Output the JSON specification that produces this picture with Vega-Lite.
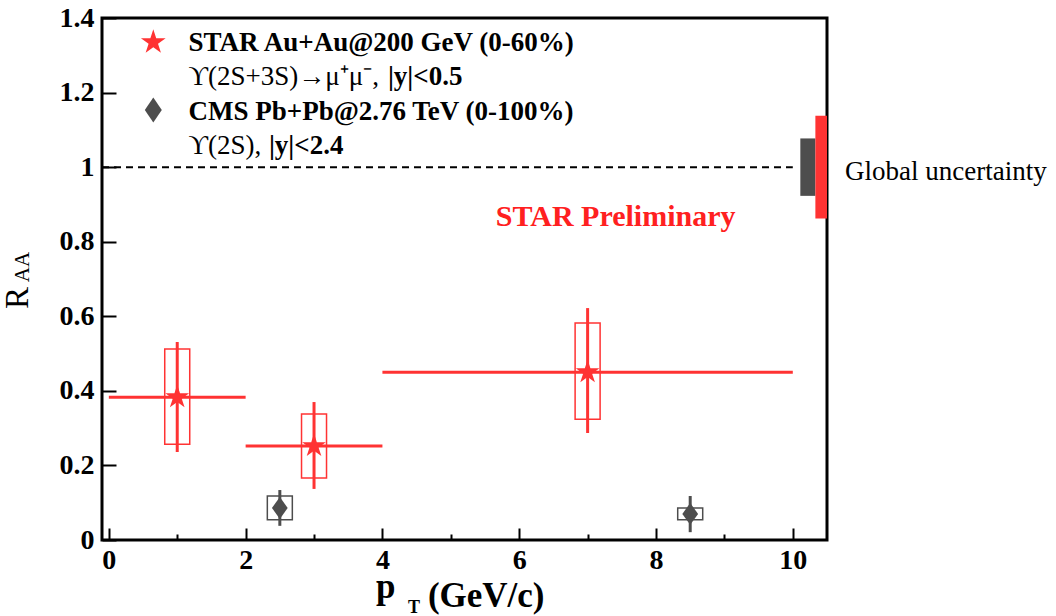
{
  "$schema": "https://vega.github.io/schema/vega-lite/v6.json",
  "width": 725,
  "height": 522,
  "autosize": {"type": "none"},
  "padding": {"left": 102, "top": 18, "right": 229, "bottom": 76},
  "background": "white",
  "config": {"view": {"stroke": "black", "strokeWidth": 3}, "font": "Liberation Serif"},
  "data": {"values": [{}]},
  "datasets": {
    "star": [
      {"pt": 1, "lo": 0, "hi": 2, "raa": 0.383, "statLo": 0.236, "statHi": 0.531, "sysLo": 0.257, "sysHi": 0.512},
      {"pt": 3, "lo": 2, "hi": 4, "raa": 0.252, "statLo": 0.137, "statHi": 0.37, "sysLo": 0.166, "sysHi": 0.338},
      {"pt": 7, "lo": 4, "hi": 10, "raa": 0.45, "statLo": 0.287, "statHi": 0.622, "sysLo": 0.324, "sysHi": 0.582}
    ],
    "cms": [
      {"pt": 2.5, "raa": 0.086, "statLo": 0.038, "statHi": 0.134, "sysLo": 0.054, "sysHi": 0.118},
      {"pt": 8.5, "raa": 0.07, "statLo": 0.021, "statHi": 0.118, "sysLo": 0.054, "sysHi": 0.086}
    ],
    "global": [
      {"exp": "CMS", "lo": 10.11, "hi": 10.33, "ylo": 0.923, "yhi": 1.077},
      {"exp": "STAR", "lo": 10.33, "hi": 10.5, "ylo": 0.862, "yhi": 1.138}
    ]
  },
  "layer": [
    {
      "data": {"name": "star"},
      "mark": {"type": "rule", "color": "#ff3333", "strokeWidth": 3},
      "encoding": {
        "x": {"field": "lo", "type": "quantitative", "title": null,
          "scale": {"domain": [-0.1, 10.5], "nice": false, "zero": false, "padding": 0},
          "axis": {"values": [0, 1, 2, 3, 4, 5, 6, 7, 8, 9, 10],
            "labelExpr": "datum.value % 2 == 0 ? format(datum.value, 'd') : ''",
            "tickSize": {"condition": {"test": "datum.value % 2 == 0", "value": -12}, "value": -6},
            "tickWidth": 2, "tickColor": "black", "domain": false, "grid": false,
            "labelFont": "Liberation Serif", "labelFontWeight": "bold", "labelFontSize": 28,
            "labelColor": "black", "labelPadding": 18, "title": null}},
        "x2": {"field": "hi"},
        "y": {"field": "raa", "type": "quantitative", "title": null,
          "scale": {"domain": [0, 1.4], "nice": false, "zero": false},
          "axis": {"values": [0, 0.1, 0.2, 0.3, 0.4, 0.5, 0.6, 0.7, 0.8, 0.9, 1, 1.1, 1.2, 1.3, 1.4],
            "labelExpr": "abs(datum.value*5 - round(datum.value*5)) < 0.001 ? format(datum.value, '~g') : ''",
            "tickSize": {"condition": {"test": "abs(datum.value*5 - round(datum.value*5)) < 0.001", "value": -14}, "value": -8},
            "tickWidth": 2, "tickColor": "black", "domain": false, "grid": false,
            "labelFont": "Liberation Serif", "labelFontWeight": "bold", "labelFontSize": 28,
            "labelColor": "black", "labelPadding": 22, "title": null}}
      }
    },
    {
      "mark": {"type": "rule", "color": "black", "strokeWidth": 2, "strokeDash": [7, 5]},
      "encoding": {
        "x": {"datum": -0.1, "type": "quantitative", "title": null},
        "x2": {"datum": 10.0},
        "y": {"datum": 1, "type": "quantitative", "title": null}
      }
    },
    {
      "data": {"name": "global"},
      "mark": {"type": "rect"},
      "encoding": {
        "x": {"field": "lo", "type": "quantitative", "title": null},
        "x2": {"field": "hi"},
        "y": {"field": "ylo", "type": "quantitative", "title": null},
        "y2": {"field": "yhi"},
        "color": {"field": "exp", "type": "nominal", "scale": {"domain": ["CMS", "STAR"], "range": ["#4d4d4d", "#ff3333"]}, "legend": null}
      }
    },
    {
      "data": {"name": "star"},
      "mark": {"type": "bar", "width": 25, "fill": "transparent", "stroke": "#ff3333", "strokeWidth": 1.5},
      "encoding": {
        "x": {"field": "pt", "type": "quantitative", "title": null},
        "y": {"field": "sysLo", "type": "quantitative", "title": null},
        "y2": {"field": "sysHi"}
      }
    },
    {
      "data": {"name": "star"},
      "mark": {"type": "rule", "color": "#ff3333", "strokeWidth": 3},
      "encoding": {
        "x": {"field": "pt", "type": "quantitative", "title": null},
        "y": {"field": "statLo", "type": "quantitative", "title": null},
        "y2": {"field": "statHi"}
      }
    },
    {
      "data": {"name": "star"},
      "mark": {"type": "point", "filled": true, "opacity": 1, "color": "#ff3333", "size": 620,
        "shape": "M0,-1L0.2245,-0.309L0.951,-0.309L0.363,0.118L0.588,0.809L0,0.382L-0.588,0.809L-0.363,0.118L-0.951,-0.309L-0.2245,-0.309Z"},
      "encoding": {
        "x": {"field": "pt", "type": "quantitative", "title": null},
        "y": {"field": "raa", "type": "quantitative", "title": null}
      }
    },
    {
      "data": {"name": "cms"},
      "mark": {"type": "bar", "width": 25, "fill": "transparent", "stroke": "#4d4d4d", "strokeWidth": 1.5},
      "encoding": {
        "x": {"field": "pt", "type": "quantitative", "title": null},
        "y": {"field": "sysLo", "type": "quantitative", "title": null},
        "y2": {"field": "sysHi"}
      }
    },
    {
      "data": {"name": "cms"},
      "mark": {"type": "rule", "color": "#4d4d4d", "strokeWidth": 3},
      "encoding": {
        "x": {"field": "pt", "type": "quantitative", "title": null},
        "y": {"field": "statLo", "type": "quantitative", "title": null},
        "y2": {"field": "statHi"}
      }
    },
    {
      "data": {"name": "cms"},
      "mark": {"type": "point", "filled": true, "opacity": 1, "color": "#4d4d4d", "size": 480,
        "shape": "M0,-1L0.72,0L0,1L-0.72,0Z"},
      "encoding": {
        "x": {"field": "pt", "type": "quantitative", "title": null},
        "y": {"field": "raa", "type": "quantitative", "title": null}
      }
    },
    {
      "mark": {"type": "point", "filled": true, "opacity": 1, "color": "#ff3333", "size": 676,
        "shape": "M0,-1L0.2245,-0.309L0.951,-0.309L0.363,0.118L0.588,0.809L0,0.382L-0.588,0.809L-0.363,0.118L-0.951,-0.309L-0.2245,-0.309Z"},
      "encoding": {"x": {"datum": 0.65, "type": "quantitative", "title": null}, "y": {"datum": 1.335, "type": "quantitative", "title": null}}
    },
    {
      "mark": {"type": "point", "filled": true, "opacity": 1, "color": "#4d4d4d", "size": 625,
        "shape": "M0,-1L0.68,0L0,1L-0.68,0Z"},
      "encoding": {"x": {"datum": 0.65, "type": "quantitative", "title": null}, "y": {"datum": 1.153, "type": "quantitative", "title": null}}
    },
    {
      "mark": {"type": "text", "text": "STAR Au+Au@200 GeV (0-60%)", "align": "left", "baseline": "middle", "font": "Liberation Serif", "fontWeight": "bold", "fontSize": 27, "color": "black"},
      "encoding": {"x": {"datum": 1.165, "type": "quantitative", "title": null}, "y": {"datum": 1.332, "type": "quantitative", "title": null}}
    },
    {
      "mark": {"type": "text", "text": "ϒ(2S+3S)→μ⁺μ⁻,", "align": "left", "baseline": "middle", "font": "Liberation Serif", "fontSize": 27, "color": "black"},
      "encoding": {"x": {"datum": 1.165, "type": "quantitative", "title": null}, "y": {"datum": 1.241, "type": "quantitative", "title": null}}
    },
    {
      "mark": {"type": "text", "text": "|y|<0.5", "align": "left", "baseline": "middle", "font": "Liberation Serif", "fontWeight": "bold", "fontSize": 27, "color": "black"},
      "encoding": {"x": {"datum": 4.08, "type": "quantitative", "title": null}, "y": {"datum": 1.241, "type": "quantitative", "title": null}}
    },
    {
      "mark": {"type": "text", "text": "CMS Pb+Pb@2.76 TeV (0-100%)", "align": "left", "baseline": "middle", "font": "Liberation Serif", "fontWeight": "bold", "fontSize": 27, "color": "black"},
      "encoding": {"x": {"datum": 1.165, "type": "quantitative", "title": null}, "y": {"datum": 1.147, "type": "quantitative", "title": null}}
    },
    {
      "mark": {"type": "text", "text": "ϒ(2S),", "align": "left", "baseline": "middle", "font": "Liberation Serif", "fontSize": 27, "color": "black"},
      "encoding": {"x": {"datum": 1.165, "type": "quantitative", "title": null}, "y": {"datum": 1.056, "type": "quantitative", "title": null}}
    },
    {
      "mark": {"type": "text", "text": "|y|<2.4", "align": "left", "baseline": "middle", "font": "Liberation Serif", "fontWeight": "bold", "fontSize": 27, "color": "black"},
      "encoding": {"x": {"datum": 2.34, "type": "quantitative", "title": null}, "y": {"datum": 1.056, "type": "quantitative", "title": null}}
    },
    {
      "mark": {"type": "text", "text": "STAR Preliminary", "align": "center", "baseline": "middle", "font": "Liberation Serif", "fontWeight": "bold", "fontSize": 30, "color": "#ff2020"},
      "encoding": {"x": {"datum": 7.41, "type": "quantitative", "title": null}, "y": {"datum": 0.866, "type": "quantitative", "title": null}}
    },
    {
      "mark": {"type": "text", "text": "Global uncertainty", "align": "left", "baseline": "middle", "font": "Liberation Serif", "fontSize": 27, "color": "black", "dx": 18},
      "encoding": {"x": {"datum": 10.5, "type": "quantitative", "title": null}, "y": {"datum": 0.987, "type": "quantitative", "title": null}}
    },
    {
      "mark": {"type": "text", "text": "R", "align": "center", "baseline": "alphabetic", "angle": 270, "dy": -74, "font": "Liberation Serif", "fontSize": 33, "color": "black"},
      "encoding": {"x": {"datum": -0.1, "type": "quantitative", "title": null}, "y": {"datum": 0.649, "type": "quantitative", "title": null}}
    },
    {
      "mark": {"type": "text", "text": "AA", "align": "center", "baseline": "alphabetic", "angle": 270, "dy": -73, "font": "Liberation Serif", "fontSize": 21, "color": "black"},
      "encoding": {"x": {"datum": -0.1, "type": "quantitative", "title": null}, "y": {"datum": 0.732, "type": "quantitative", "title": null}}
    },
    {
      "mark": {"type": "text", "text": "p", "align": "left", "baseline": "alphabetic", "dx": -6.5, "dy": 58, "font": "Liberation Serif", "fontWeight": "bold", "fontSize": 35, "color": "black"},
      "encoding": {"x": {"datum": 4, "type": "quantitative", "title": null}, "y": {"datum": 0, "type": "quantitative", "title": null}}
    },
    {
      "mark": {"type": "text", "text": "T", "align": "left", "baseline": "alphabetic", "dx": 25.5, "dy": 73, "font": "Liberation Serif", "fontWeight": "bold", "fontSize": 18, "color": "black"},
      "encoding": {"x": {"datum": 4, "type": "quantitative", "title": null}, "y": {"datum": 0, "type": "quantitative", "title": null}}
    },
    {
      "mark": {"type": "text", "text": "(GeV/c)", "align": "left", "baseline": "alphabetic", "dx": 45.5, "dy": 67, "font": "Liberation Serif", "fontWeight": "bold", "fontSize": 35, "color": "black"},
      "encoding": {"x": {"datum": 4, "type": "quantitative", "title": null}, "y": {"datum": 0, "type": "quantitative", "title": null}}
    }
  ]
}
